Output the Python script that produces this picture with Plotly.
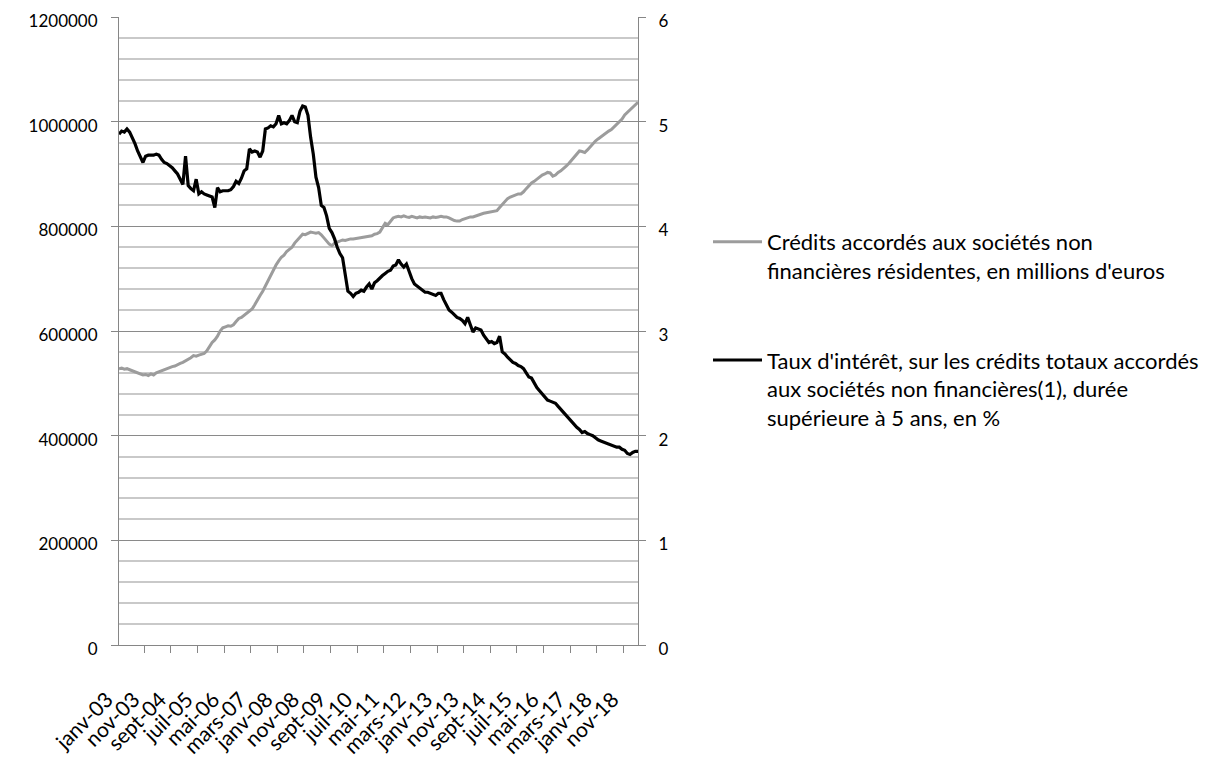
import plotly.graph_objects as go

# Month categories (Excel-style French abbreviations), janv-03 .. avr-19
month_names = ["janv", "févr", "mars", "avr", "mai", "juin",
               "juil", "août", "sept", "oct", "nov", "déc"]
years = list(range(2003, 2020))
categories = []
for y in years:
    for m in month_names:
        categories.append(f"{m}-{str(y)[2:]}")
categories = categories[:196]

# Credits to resident non-financial corporations (millions of euros)
credits = [
    528000, 529000, 527000, 528000, 526000, 524000, 521000, 519000, 518000, 516000, 517000, 515000,
    518000, 516000, 520000, 522000, 524000, 527000, 528000, 530000, 532000, 533000, 536000, 538000,
    540000, 543000, 545000, 549000, 553000, 552000, 554000, 556000, 557000, 562000, 570000, 578000,
    583000, 590000, 600000, 606000, 608000, 610000, 609000, 612000, 618000, 624000, 626000, 630000,
    634000, 639000, 642000, 650000, 660000, 668000, 676000, 686000, 697000, 709000, 716000, 726000,
    734000, 741000, 745000, 752000, 756000, 760000, 768000, 774000, 780000, 785000, 784000, 787000,
    789000, 788000, 787000, 788000, 784000, 778000, 772000, 766000, 763000, 768000, 770000, 772000,
    774000, 773000, 775000, 776000, 776000, 777000, 778000, 779000, 780000, 781000, 782000, 782000,
    785000, 786000, 789000, 798000, 806000, 803000, 810000, 816000, 818000, 819000, 818000, 820000,
    818000, 817000, 819000, 817000, 816000, 818000, 817000, 818000, 817000, 816000, 818000, 817000,
    818000, 819000, 818000, 818000, 816000, 813000, 811000, 810000, 810000, 813000, 815000, 817000,
    818000, 818000, 820000, 821000, 823000, 825000, 826000, 827000, 829000, 830000, 830000, 836000,
    842000, 848000, 853000, 856000, 858000, 860000, 862000, 862000, 866000, 872000, 878000, 883000,
    886000, 890000, 894000, 898000, 900000, 903000, 902000, 896000, 898000, 903000, 906000, 910000,
    915000, 920000, 926000, 932000, 937000, 944000, 943000, 941000, 946000, 952000, 958000, 963000,
    967000, 971000, 975000, 979000, 982000, 985000, 990000, 994000, 998000, 1005000, 1013000, 1018000,
    1022000, 1026000, 1031000, 1037000,
]

# Interest rate on total credits to NFCs, maturity > 5 years (%)
rates = [
    4.88, 4.91, 4.90, 4.93, 4.90, 4.85, 4.79, 4.72, 4.66, 4.61, 4.67, 4.68,
    4.68, 4.68, 4.69, 4.68, 4.64, 4.61, 4.60, 4.58, 4.56, 4.53, 4.50, 4.45,
    4.40, 4.67, 4.39, 4.36, 4.34, 4.45, 4.31, 4.33, 4.31, 4.30, 4.29, 4.28,
    4.18, 4.37, 4.33, 4.34, 4.34, 4.34, 4.35, 4.38, 4.43, 4.41, 4.46, 4.53,
    4.55, 4.74, 4.71, 4.72, 4.71, 4.66, 4.72, 4.93, 4.94, 4.96, 4.95, 4.98,
    5.06, 4.98, 4.99, 4.98, 5.01, 5.06, 5.00, 4.99, 5.10, 5.15, 5.14, 5.06,
    4.85, 4.69, 4.47, 4.37, 4.20, 4.18, 4.10, 3.98, 3.94, 3.88, 3.80, 3.74,
    3.70, 3.55, 3.38, 3.36, 3.33, 3.36, 3.37, 3.39, 3.38, 3.42, 3.45, 3.40,
    3.46, 3.48, 3.51, 3.53, 3.55, 3.57, 3.58, 3.62, 3.63, 3.68, 3.64, 3.61,
    3.64, 3.56, 3.50, 3.45, 3.43, 3.41, 3.39, 3.37, 3.37, 3.36, 3.35, 3.34,
    3.36, 3.36, 3.30, 3.25, 3.20, 3.18, 3.15, 3.13, 3.12, 3.10, 3.07, 3.13,
    3.06, 2.99, 3.03, 3.02, 3.01, 2.96, 2.93, 2.89, 2.90, 2.88, 2.89, 2.95,
    2.80, 2.78, 2.75, 2.72, 2.70, 2.69, 2.67, 2.66, 2.64, 2.60, 2.56, 2.55,
    2.50, 2.46, 2.43, 2.40, 2.36, 2.34, 2.33, 2.32, 2.31, 2.28, 2.25, 2.23,
    2.19, 2.17, 2.14, 2.10, 2.08, 2.06, 2.03, 2.04, 2.02, 2.01, 2.00, 1.98,
    1.96, 1.95, 1.94, 1.93, 1.92, 1.91, 1.90, 1.89, 1.89, 1.87, 1.86, 1.83,
    1.82, 1.84, 1.85, 1.85,
]

name_credits = ["Crédits accordés aux sociétés non",
                "financières résidentes, en millions d'euros"]
name_rates = ["Taux d'intérêt, sur les crédits totaux accordés",
              "aux sociétés non financières(1), durée",
              "supérieure à 5 ans, en %"]

FONT = "Lato, 'Open Sans', sans-serif"
YTICK = 17
XTICK = 21
AXIS_COL = "#868686"

# the page body has an 8px default margin: figure sized to fit the window
W, H = 1223, 754

fig = go.Figure()
fig.add_trace(go.Scatter(
    x=categories, y=credits, mode="lines", name="<br>".join(name_credits),
    line=dict(color="#9c9c9c", width=3), yaxis="y", legendgroup="a",
))
fig.add_trace(go.Scatter(
    x=categories, y=rates, mode="lines", name="<br>".join(name_rates),
    line=dict(color="#000000", width=3.2), yaxis="y2", legendgroup="b",
))

fig.update_layout(
    width=W, height=H,
    margin=dict(l=111, r=593, t=9, b=117),
    paper_bgcolor="white", plot_bgcolor="white",
    font=dict(family=FONT, size=YTICK, color="#000000"),
    showlegend=True,
    legend=dict(
        xref="container", yref="container",
        x=700 / W, y=1 - 213 / H, xanchor="left", yanchor="top",
        font=dict(size=22, family=FONT, color="#000000"),
        valign="top", tracegroupgap=58, itemwidth=49,
        bgcolor="rgba(0,0,0,0)",
    ),
    xaxis=dict(
        type="category", tickmode="linear", tick0=0, dtick=10,
        tickson="boundaries", ticks="outside", ticklen=7, tickcolor=AXIS_COL,
        tickangle=-45, showgrid=False, showline=True, linecolor=AXIS_COL,
        linewidth=1, tickfont=dict(size=XTICK), zeroline=False,
        ticklabelstandoff=33, ticklabelshift=-12, automargin=False,
    ),
    yaxis=dict(
        range=[0, 1200000], tickmode="linear", tick0=0, dtick=200000,
        tickformat="d", ticks="outside", ticklen=7, tickcolor=AXIS_COL,
        showline=True, linecolor=AXIS_COL, linewidth=1,
        showgrid=True, gridcolor="#8a8a8a", gridwidth=1,
        minor=dict(dtick=40000, showgrid=True, gridcolor="#c9c9c9", gridwidth=1.6, ticks=""),
        zeroline=False, tickfont=dict(size=YTICK), ticklabelstandoff=10,
        ticklabelshift=4, automargin=False, ticklabeloverflow="allow",
    ),
    yaxis2=dict(
        range=[0, 6], tickmode="linear", tick0=0, dtick=1,
        overlaying="y", side="right", ticks="outside", ticklen=7, tickcolor=AXIS_COL,
        showline=True, linecolor=AXIS_COL, linewidth=1, showgrid=False,
        zeroline=False, tickfont=dict(size=YTICK), ticklabelstandoff=9,
        ticklabelshift=4, automargin=False, ticklabeloverflow="allow",
    ),
)

fig.write_html("out.html")
